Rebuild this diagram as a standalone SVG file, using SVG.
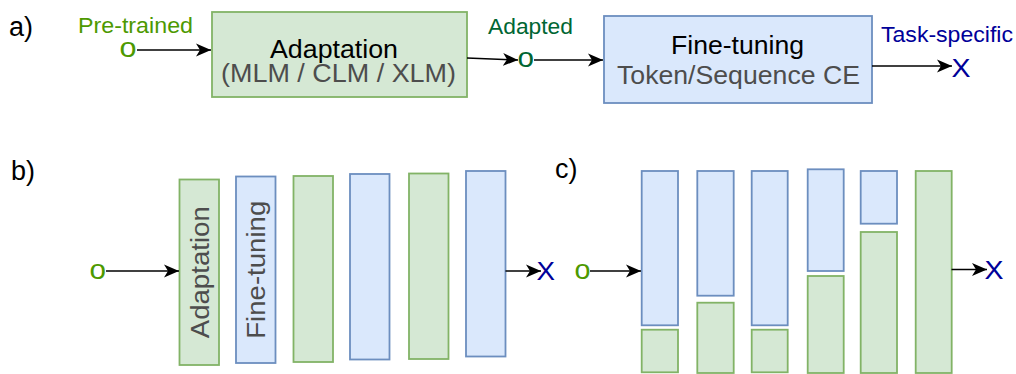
<svg xmlns="http://www.w3.org/2000/svg" width="1016" height="374" viewBox="0 0 1016 374">
<style>
text{font-family:"Liberation Sans",Arial,sans-serif}
.lbl{font-size:27px;fill:#000}
.g{fill:#d5e8d4;stroke:#82b366;stroke-width:1.8}
.b{fill:#dae8fc;stroke:#6c8ebf;stroke-width:1.8}
.t1{font-size:25.5px;fill:#000}
.t2{font-size:25.5px;fill:#4d4d4d}
.sm{font-size:22.5px}
.o{font-size:28px}
.x{font-size:25px;fill:#000099}
.cn{stroke:#000;stroke-width:1.5;fill:none;marker-end:url(#ah)}
</style>
<defs>
<marker id="ah" markerUnits="userSpaceOnUse" markerWidth="16" markerHeight="14" viewBox="0 0 16 14" refX="15" refY="7" orient="auto">
<path d="M0,0.5 L15,7 L0,13.5 L4,7 Z" fill="#000"/>
</marker>
</defs>
<g id="labels">
<text class="lbl" x="9" y="36">a)</text>
<text class="lbl" x="11" y="180">b)</text>
<text class="lbl" x="555" y="178">c)</text>
</g>
<g id="a-pretrained">
<text class="sm" x="78" y="33" fill="#4d9900" textLength="115" lengthAdjust="spacingAndGlyphs">Pre-trained</text>
<text class="o" x="119.5" y="57" fill="#4d9900" textLength="17" lengthAdjust="spacingAndGlyphs">o</text>
</g>
<g id="a-adaptation">
<rect class="g" x="212" y="12" width="255" height="85"/>
<text class="t1" x="270" y="58" textLength="128" lengthAdjust="spacingAndGlyphs">Adaptation</text>
<text class="t2" x="221" y="82" textLength="235" lengthAdjust="spacingAndGlyphs">(MLM / CLM / XLM)</text>
</g>
<g id="a-adapted">
<text class="sm" x="488" y="33.5" fill="#006633" textLength="85" lengthAdjust="spacingAndGlyphs">Adapted</text>
<text class="o" x="517.5" y="67" fill="#006633" textLength="16.5" lengthAdjust="spacingAndGlyphs">o</text>
</g>
<g id="a-finetuning">
<rect class="b" x="604" y="16" width="268" height="87"/>
<text class="t1" x="671" y="53.5" textLength="133" lengthAdjust="spacingAndGlyphs">Fine-tuning</text>
<text class="t2" x="617" y="83.5" textLength="243" lengthAdjust="spacingAndGlyphs">Token/Sequence CE</text>
</g>
<g id="a-task">
<text class="sm" x="881" y="41.5" fill="#000099" textLength="132" lengthAdjust="spacingAndGlyphs">Task-specific</text>
<text class="x" x="951.5" y="77" textLength="19" lengthAdjust="spacingAndGlyphs">X</text>
</g>
<g id="b-input"><text class="o" x="89.5" y="278.5" fill="#4d9900" textLength="16.5" lengthAdjust="spacingAndGlyphs">o</text></g>
<g id="b-layer1">
<rect class="g" x="179.5" y="179.5" width="39.5" height="185.5"/>
<text class="t2" transform="translate(208.5,272.25) rotate(-90)" text-anchor="middle" textLength="132" lengthAdjust="spacingAndGlyphs">Adaptation</text>
</g>
<g id="b-layer2">
<rect class="b" x="236" y="176.5" width="39.5" height="186.5"/>
<text class="t2" transform="translate(265,269.75) rotate(-90)" text-anchor="middle" textLength="138" lengthAdjust="spacingAndGlyphs">Fine-tuning</text>
</g>
<g id="b-layer3"><rect class="g" x="293.5" y="176" width="39.5" height="186"/></g>
<g id="b-layer4"><rect class="b" x="350" y="174" width="39.5" height="185.5"/></g>
<g id="b-layer5"><rect class="g" x="409" y="173.5" width="39.5" height="185.5"/></g>
<g id="b-layer6"><rect class="b" x="466" y="171" width="39.5" height="185.5"/></g>
<g id="b-output"><text class="x" x="536.5" y="280" textLength="18.5" lengthAdjust="spacingAndGlyphs">X</text></g>
<g id="c-input"><text class="o" x="574.5" y="279" fill="#4d9900" textLength="16" lengthAdjust="spacingAndGlyphs">o</text></g>
<g id="c-col1">
<rect class="b" x="641.7" y="171" width="36.3" height="154.3"/>
<rect class="g" x="641.7" y="329.7" width="36.3" height="42.6"/>
</g>
<g id="c-col2">
<rect class="b" x="697.3" y="171" width="36.4" height="124.7"/>
<rect class="g" x="697.3" y="302.7" width="36.4" height="70.3"/>
</g>
<g id="c-col3">
<rect class="b" x="751.7" y="171" width="36" height="154.3"/>
<rect class="g" x="751.7" y="329.7" width="36" height="42.6"/>
</g>
<g id="c-col4">
<rect class="b" x="807.7" y="169.3" width="36" height="101.7"/>
<rect class="g" x="807.7" y="276" width="36" height="97"/>
</g>
<g id="c-col5">
<rect class="b" x="860.7" y="171" width="36.3" height="52.7"/>
<rect class="g" x="860.7" y="232" width="36.3" height="141"/>
</g>
<g id="c-col6"><rect class="g" x="915.7" y="171" width="36" height="202"/></g>
<g id="c-output"><text class="x" x="984.5" y="279" textLength="19" lengthAdjust="spacingAndGlyphs">X</text></g>
<g id="connectors">
<path class="cn" d="M137,50 L211,50"/>
<path class="cn" d="M467,58 L518,60"/>
<path class="cn" d="M534,60 L603,60"/>
<path class="cn" d="M872,66 L952,66"/>
<path class="cn" d="M106,271 L179,271"/>
<path class="cn" d="M505.5,271 L541,271"/>
<path class="cn" d="M590,271 L641,271"/>
<path class="cn" d="M951.5,269.5 L987,269.5"/>
</g>
</svg>
